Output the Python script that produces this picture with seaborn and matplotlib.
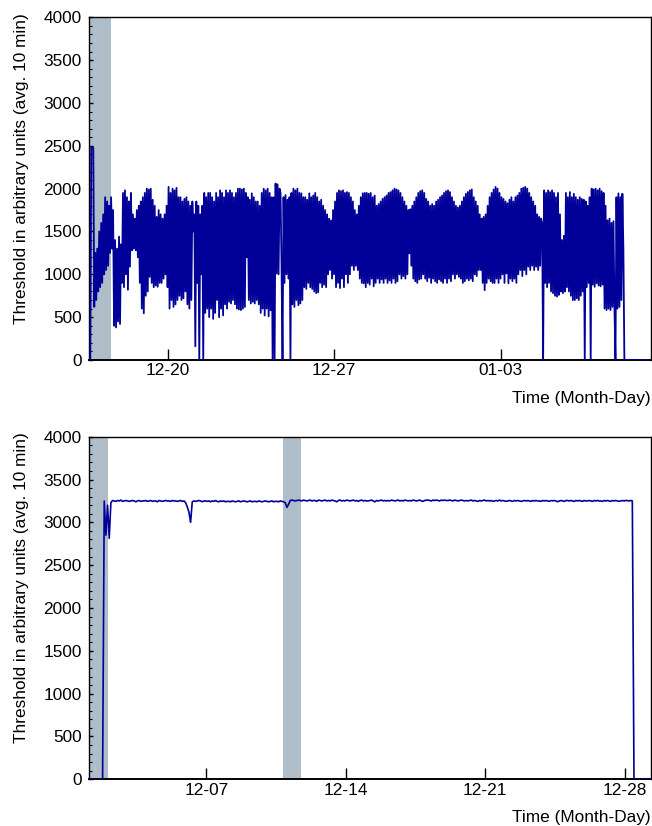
import matplotlib
matplotlib.use("Agg")
import matplotlib.pyplot as plt
import matplotlib.dates as mdates
from matplotlib.ticker import MultipleLocator, FixedLocator
import pandas as pd
import seaborn as sns

# ---------------- data ----------------
# Top panel: threshold, one value every hour starting 12-16 18:00
top_start = "2022-12-16 18:00"
top_week1 = [
    0, 2480, 2480, 2480, 620, 1250, 700, 1300, 800, 1500, 850, 1600,
    900, 1700, 1000, 1900, 1050, 1850, 1100, 1800, 1250, 1900, 1300, 1750,
    400, 1400, 380, 1300, 450, 1440, 420, 1350, 900, 1950, 850, 1980,
    1000, 1900, 820, 1850, 1090, 1950, 1280, 1700, 1300, 1650, 1280, 1750,
    1200, 1800, 900, 1850, 600, 1900, 545, 1950, 750, 2000, 800, 1990,
    970, 2000, 900, 1870, 850, 1800, 870, 1670, 855, 1750, 900, 1700,
    900, 1650, 950, 1700, 1000, 1800, 850, 2020, 600, 1950, 700, 2000,
    620, 1980, 650, 2010, 700, 1900, 750, 1900, 700, 1850, 720, 1880,
    800, 1900, 650, 1850, 600, 1800, 700, 1850, 1500, 1700, 160, 1850,
    900, 1800, 0, 1700, 1000, 1800, 0, 1950, 550, 1900, 600, 1950,
    500, 1950, 600, 1900, 480, 1850, 550, 1950, 700, 1900, 500, 1980,
    600, 1950, 520, 1900, 650, 1980, 600, 1950, 680, 1980, 660, 1950,
    700, 1900, 650, 1950, 600, 2000, 590, 2000, 583, 1990, 600, 2000,
    620, 1950, 1200, 1900, 700, 1870, 660, 1945, 680, 1900, 660, 1850,
]
top_week2 = [
    700, 1850, 650, 1800, 550, 1950, 600, 2000, 520, 1980, 600, 2000,
    510, 1950, 580, 1900, 0, 1900, 0, 2060, 1010, 2050, 1000, 2000,
    1950, 1100, 0, 1900, 900, 1925, 1000, 1870, 950, 1900, 0, 1950,
    650, 2000, 620, 1980, 700, 2000, 640, 1950, 660, 1945, 700, 1900,
    850, 1900, 830, 1870, 900, 1945, 850, 1900, 830, 1920, 800, 1950,
    780, 1900, 790, 1850, 900, 1870, 850, 1800, 880, 1750, 850, 1700,
    1000, 1650, 1050, 1630, 950, 1750, 1000, 1850, 850, 1950, 900, 1980,
    840, 1970, 950, 1980, 850, 1950, 1000, 1960, 900, 1950, 1000, 1900,
    1100, 1850, 1050, 1750, 1100, 1700, 1050, 1800, 950, 1900, 900, 1945,
    895, 1950, 850, 1950, 900, 1940, 880, 1950, 950, 1900, 860, 1920,
    900, 1800, 950, 1820, 900, 1850, 940, 1880, 900, 1900, 950, 1920,
    900, 1950, 930, 1960, 900, 1980, 950, 2000, 900, 1990, 920, 1980,
    1000, 1950, 950, 1900, 980, 1850, 950, 1800, 1000, 1750, 1245, 1760,
    1100, 1800, 950, 1850, 920, 1900, 900, 1950, 940, 1970, 950, 1980,
]
top_week3 = [
    1000, 1950, 950, 1880, 920, 1850, 960, 1800, 900, 1820, 950, 1800,
    920, 1850, 900, 1870, 940, 1900, 920, 1920, 900, 1950, 950, 1970,
    900, 1980, 950, 1960, 920, 1900, 1000, 1850, 950, 1800, 1000, 1780,
    970, 1800, 950, 1850, 900, 1900, 920, 1940, 950, 1960, 930, 1980,
    950, 1990, 920, 1900, 1000, 1850, 980, 1800, 1050, 1700, 1050, 1650,
    900, 1670, 815, 1700, 900, 1800, 950, 1900, 920, 1950, 900, 1990,
    900, 2020, 950, 2000, 900, 1950, 950, 1900, 1000, 1880, 900, 1850,
    1010, 1830, 895, 1870, 950, 1900, 920, 1850, 950, 1900, 900, 1920,
    1000, 1950, 1050, 2000, 980, 2010, 1050, 2020, 1000, 2000, 1090, 1950,
    1050, 1900, 1100, 1850, 1050, 1800, 1090, 1700, 1050, 1670, 1100, 1650,
    1600, 0, 1980, 900, 1950, 850, 1980, 900, 1960, 800, 1980, 780,
    1950, 750, 1900, 740, 1950, 760, 1700, 800, 1400, 780, 1450, 800,
    1950, 850, 1900, 800, 1960, 750, 1900, 700, 1940, 700, 1900, 720,
    1870, 700, 1900, 750, 1880, 800, 1870, 0, 1850, 850, 1800, 900,
]
top_tail = [
    1900, 0, 2000, 880, 1990, 855, 2000, 895, 1980, 870, 2000, 860,
    1970, 880, 1950, 600, 1800, 583, 1630, 600, 1650, 583, 1600, 620,
    1620, 600, 0, 1900, 600, 1945, 620, 1900, 700, 1940, 1300, 0,
    0, 0, 0, 0, 0, 0, 0, 0, 0, 0, 0, 0,
    0, 0, 0, 0, 0, 0, 0, 0, 0, 0, 0,
]

# Bottom panel: threshold, one value every 2 hours starting 12-01 03:00
bot_start = "2022-12-01 03:00"
bot_week1 = [
    0, 0, 0, 0, 0, 0, 0, 0, 0, 3250, 2850, 3200,
    2814, 3230, 3255, 3250, 3245, 3255, 3250, 3260, 3245, 3250, 3255, 3250,
    3245, 3250, 3255, 3250, 3240, 3250, 3255, 3245, 3250, 3250, 3255, 3245,
    3250, 3255, 3245, 3250, 3250, 3240, 3255, 3250, 3245, 3250, 3255, 3250,
    3250, 3245, 3255, 3250, 3250, 3245, 3250, 3255, 3245, 3250, 3230, 3180,
    3120, 3000, 3240, 3250, 3245, 3250, 3255, 3250, 3240, 3250, 3250, 3245,
    3250, 3240, 3250, 3245, 3255, 3245, 3240, 3250, 3245, 3250, 3240, 3245,
]
bot_week2 = [
    3245, 3240, 3250, 3245, 3240, 3245, 3250, 3240, 3245, 3250, 3245, 3240,
    3245, 3250, 3240, 3245, 3245, 3240, 3250, 3245, 3240, 3245, 3250, 3245,
    3240, 3245, 3250, 3240, 3245, 3245, 3240, 3250, 3245, 3240, 3230, 3175,
    3210, 3255, 3260, 3255, 3250, 3255, 3260, 3255, 3250, 3260, 3255, 3250,
    3255, 3260, 3250, 3255, 3255, 3245, 3260, 3255, 3250, 3255, 3260, 3250,
    3255, 3250, 3260, 3255, 3250, 3240, 3255, 3260, 3250, 3255, 3250, 3260,
    3255, 3250, 3255, 3260, 3250, 3255, 3245, 3255, 3260, 3250, 3255, 3250,
]
bot_week3 = [
    3250, 3255, 3260, 3250, 3240, 3255, 3250, 3255, 3260, 3250, 3255, 3250,
    3255, 3250, 3260, 3255, 3250, 3255, 3260, 3250, 3255, 3250, 3260, 3255,
    3250, 3255, 3250, 3260, 3255, 3250, 3255, 3260, 3250, 3245, 3255, 3260,
    3260, 3255, 3250, 3260, 3255, 3260, 3255, 3250, 3260, 3255, 3260, 3255,
    3255, 3260, 3255, 3250, 3260, 3255, 3250, 3255, 3260, 3255, 3250, 3255,
    3250, 3255, 3260, 3250, 3255, 3250, 3245, 3255, 3250, 3255, 3260, 3250,
    3255, 3250, 3255, 3245, 3250, 3255, 3250, 3260, 3250, 3255, 3250, 3245,
]
bot_week4 = [
    3250, 3255, 3250, 3245, 3255, 3250, 3255, 3250, 3245, 3250, 3255, 3250,
    3255, 3250, 3245, 3255, 3250, 3255, 3250, 3250, 3245, 3255, 3250, 3255,
    3250, 3245, 3255, 3250, 3255, 3250, 3240, 3250, 3255, 3250, 3245, 3255,
    3255, 3250, 3255, 3250, 3245, 3255, 3250, 3255, 3250, 3245, 3255, 3250,
    3250, 3255, 3250, 3245, 3255, 3250, 3255, 3250, 3250, 3245, 3255, 3250,
    3255, 3250, 3245, 3255, 3250, 3255, 3250, 3245, 3250, 3255, 3250, 3255,
    3255, 3250, 3255, 3250, 0, 0, 0, 0, 0, 0, 0, 0,
    0, 0, 0,
]

# shaded periods
top_bands = [("2022-12-16 17:00", "2022-12-17 15:10")]
bot_bands = [("2022-12-01 03:00", "2022-12-02 01:30"),
             ("2022-12-10 20:50", "2022-12-11 17:50")]

# axis ranges and tick labels
top_xlim = ("2022-12-16 17:00", "2023-01-09 07:40")
bot_xlim = ("2022-12-01 03:00", "2022-12-29 07:15")
top_ticks = ["2022-12-20", "2022-12-27", "2023-01-03"]
bot_ticks = ["2022-12-07", "2022-12-14", "2022-12-21", "2022-12-28"]

ylabel = "Threshold in arbitrary units (avg. 10 min)"
xlabel = "Time (Month-Day)"

# ---------------- build frames ----------------
top_vals = top_week1 + top_week2 + top_week3 + top_tail
bot_vals = bot_week1 + bot_week2 + bot_week3 + bot_week4
df_top = pd.DataFrame({"time": pd.date_range(top_start, periods=len(top_vals), freq="1h"),
                       "value": top_vals})
df_bot = pd.DataFrame({"time": pd.date_range(bot_start, periods=len(bot_vals), freq="2h"),
                       "value": bot_vals})

# ---------------- style ----------------
sns.set_theme(style="white")
plt.rcParams["font.family"] = ["Liberation Sans", "DejaVu Sans"]
for k in ("text.color", "axes.labelcolor", "xtick.color", "ytick.color"):
    plt.rcParams[k] = "black"

LINE = "#000099"
BAND = "#aebdc7"
FS = 12.4

fig = plt.figure(figsize=(6.52, 8.26), dpi=100)
W, H = 652, 826
ax_top = fig.add_axes([89.3 / W, 1 - 360 / H, 561.5 / W, 342.7 / H])
ax_bot = fig.add_axes([89.3 / W, 1 - 779.3 / H, 561.5 / W, 342.6 / H])


def style(ax, df, bands, xlim, ticks, lw):
    for a, b in bands:
        ax.axvspan(pd.Timestamp(a), pd.Timestamp(b), color=BAND, lw=0, zorder=0)
    sns.lineplot(data=df, x="time", y="value", ax=ax, color=LINE, lw=lw,
                 estimator=None, sort=False, zorder=3)
    ax.set_xlim(pd.Timestamp(xlim[0]), pd.Timestamp(xlim[1]))
    ax.set_ylim(0, 4000)
    ax.yaxis.set_major_locator(MultipleLocator(500))
    ax.yaxis.set_minor_locator(MultipleLocator(100))
    ax.xaxis.set_major_locator(FixedLocator(mdates.date2num(pd.to_datetime(ticks))))
    ax.xaxis.set_major_formatter(mdates.DateFormatter("%m-%d"))
    ax.xaxis.set_minor_locator(FixedLocator([]))
    ax.tick_params(axis="y", which="major", direction="in", length=3, width=1,
                   color="black", labelcolor="black", labelsize=FS, pad=5.5,
                   left=True, right=False)
    ax.tick_params(axis="y", which="minor", direction="in", length=2, width=0.8,
                   color="black", left=True, right=False)
    ax.tick_params(axis="x", which="major", direction="in", length=7.7, width=1,
                   color="black", labelcolor="black", labelsize=FS, pad=2.5,
                   bottom=True, top=False)
    for s in ax.spines.values():
        s.set_visible(True)
        s.set_color("black")
        s.set_linewidth(1.0)
    ax.spines["bottom"].set_linewidth(1.4)
    ax.set_xlabel(xlabel, fontsize=FS, color="black", ha="right", va="center")
    ax.xaxis.set_label_coords(1.0, -(398 - 360) / 342.7)
    ax.set_ylabel(ylabel, fontsize=FS, color="black", ha="right", va="center",
                  rotation_mode="anchor")
    ax.yaxis.set_label_coords(-(89.3 - 22) / 561.5, 1.012)
    ax.grid(False)


style(ax_top, df_top, top_bands, top_xlim, top_ticks, 1.3)
style(ax_bot, df_bot, bot_bands, bot_xlim, bot_ticks, 1.2)

fig.savefig("out.png", dpi=100)
